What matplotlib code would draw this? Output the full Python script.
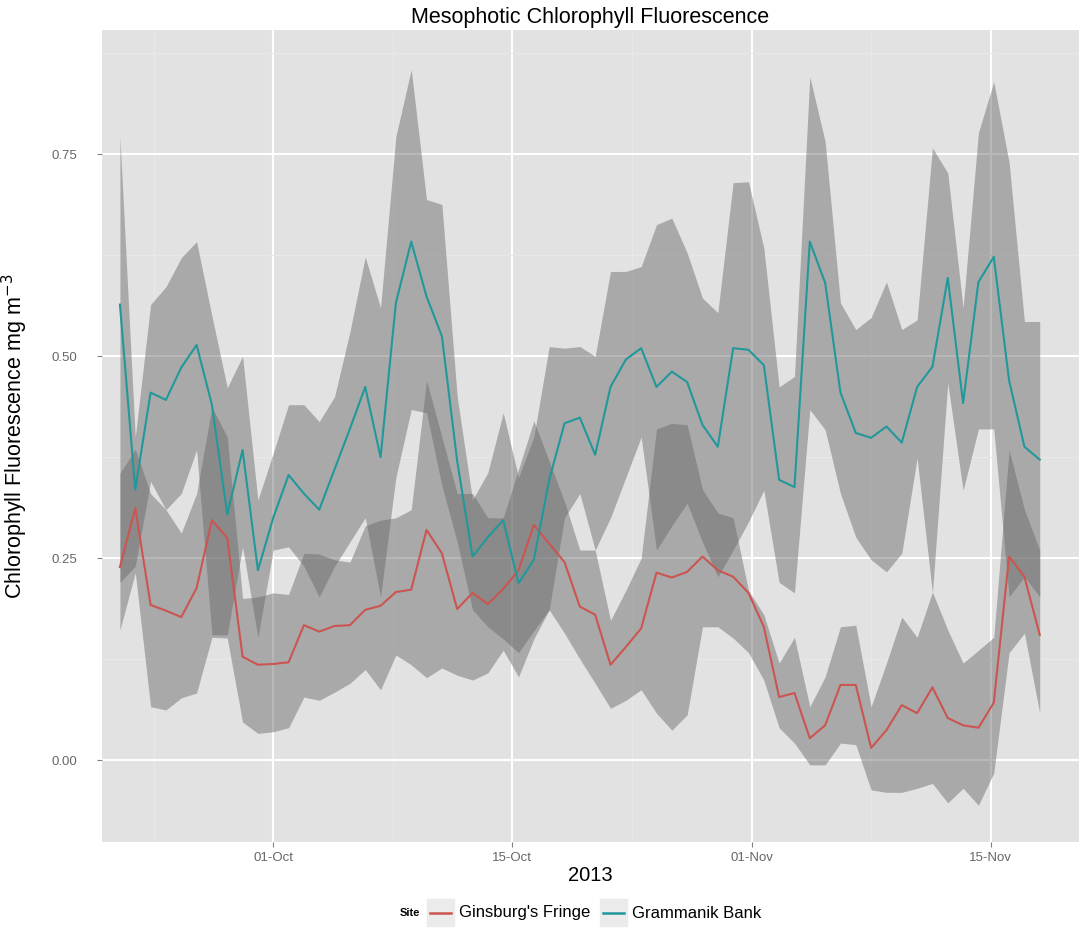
import numpy as np
import matplotlib
matplotlib.use("Agg")
import matplotlib.pyplot as plt
from matplotlib.lines import Line2D
from matplotlib.patches import Rectangle

# daily chlorophyll values and ribbon bounds
ginsburg = [0.239, 0.312, 0.192, 0.185, 0.177, 0.213, 0.297, 0.275, 0.128, 0.118,
            0.119, 0.121, 0.167, 0.159, 0.166, 0.167, 0.186, 0.191, 0.208, 0.211,
            0.285, 0.256, 0.187, 0.207, 0.193, 0.212, 0.235, 0.291, 0.268, 0.245,
            0.190, 0.180, 0.118, 0.140, 0.163, 0.232, 0.226, 0.233, 0.252, 0.235,
            0.227, 0.207, 0.165, 0.078, 0.083, 0.027, 0.043, 0.093, 0.093, 0.015,
            0.037, 0.068, 0.058, 0.090, 0.052, 0.043, 0.040, 0.071, 0.252, 0.227,
            0.155]
ginsburg_lo = [0.161, 0.232, 0.066, 0.062, 0.077, 0.083, 0.152, 0.151, 0.047, 0.033,
               0.035, 0.040, 0.078, 0.074, 0.084, 0.095, 0.112, 0.087, 0.130, 0.118,
               0.102, 0.114, 0.105, 0.099, 0.108, 0.136, 0.103, 0.150, 0.186, 0.157,
               0.125, 0.095, 0.064, 0.074, 0.087, 0.058, 0.037, 0.056, 0.165, 0.165,
               0.151, 0.133, 0.099, 0.040, 0.021, -0.006, -0.006, 0.021, 0.019, -0.037,
               -0.040, -0.040, -0.035, -0.029, -0.053, -0.035, -0.056, -0.016, 0.133, 0.157,
               0.058]
ginsburg_hi = [0.355, 0.385, 0.330, 0.310, 0.281, 0.330, 0.437, 0.400, 0.200, 0.202,
               0.207, 0.205, 0.256, 0.255, 0.248, 0.245, 0.290, 0.297, 0.300, 0.310,
               0.470, 0.400, 0.330, 0.330, 0.300, 0.300, 0.360, 0.420, 0.370, 0.320,
               0.260, 0.260, 0.173, 0.210, 0.250, 0.410, 0.417, 0.415, 0.335, 0.306,
               0.300, 0.210, 0.180, 0.120, 0.152, 0.066, 0.103, 0.165, 0.167, 0.066,
               0.120, 0.177, 0.152, 0.208, 0.161, 0.120, 0.136, 0.152, 0.384, 0.310,
               0.260]

grammanik = [0.564, 0.335, 0.455, 0.446, 0.486, 0.514, 0.440, 0.304, 0.384, 0.235,
             0.300, 0.353, 0.330, 0.310, 0.360, 0.410, 0.462, 0.375, 0.566, 0.642,
             0.574, 0.525, 0.370, 0.252, 0.276, 0.297, 0.219, 0.248, 0.347, 0.417,
             0.424, 0.378, 0.462, 0.496, 0.510, 0.462, 0.481, 0.468, 0.415, 0.388,
             0.510, 0.508, 0.489, 0.347, 0.338, 0.642, 0.591, 0.455, 0.405, 0.399,
             0.413, 0.393, 0.462, 0.487, 0.597, 0.442, 0.592, 0.623, 0.470, 0.388,
             0.372]
grammanik_lo = [0.220, 0.240, 0.345, 0.310, 0.330, 0.384, 0.155, 0.155, 0.264, 0.152,
                0.260, 0.264, 0.240, 0.202, 0.240, 0.270, 0.300, 0.202, 0.350, 0.434,
                0.430, 0.340, 0.270, 0.186, 0.165, 0.150, 0.133, 0.160, 0.186, 0.300,
                0.330, 0.260, 0.300, 0.350, 0.400, 0.260, 0.290, 0.318, 0.270, 0.227,
                0.260, 0.295, 0.334, 0.220, 0.207, 0.434, 0.409, 0.330, 0.276, 0.248,
                0.233, 0.256, 0.374, 0.207, 0.467, 0.334, 0.410, 0.410, 0.202, 0.227,
                0.202]
grammanik_hi = [0.772, 0.400, 0.564, 0.586, 0.622, 0.642, 0.550, 0.461, 0.500, 0.322,
                0.380, 0.440, 0.440, 0.419, 0.450, 0.530, 0.623, 0.560, 0.772, 0.855,
                0.694, 0.688, 0.450, 0.322, 0.356, 0.430, 0.350, 0.400, 0.512, 0.510,
                0.512, 0.500, 0.605, 0.605, 0.611, 0.663, 0.671, 0.628, 0.572, 0.554,
                0.715, 0.716, 0.634, 0.462, 0.475, 0.846, 0.766, 0.566, 0.533, 0.548,
                0.592, 0.533, 0.545, 0.758, 0.727, 0.560, 0.777, 0.840, 0.740, 0.543,
                0.543]

sites = ["Ginsburg's Fringe", "Grammanik Bank"]
site_colors = ["#CB5550", "#22989B"]

# x axis is the sample index, ticks sit where the dates were printed
date_ticks = [10.0, 25.6, 41.2, 56.8]
date_minor = [2.2, 17.8, 33.4, 49.0]
date_labels = ["01-Oct", "15-Oct", "01-Nov", "15-Nov"]
y_ticks = [0.0, 0.25, 0.50, 0.75]
y_minor = [0.125, 0.375, 0.625, 0.875]

day = np.arange(len(ginsburg))

W, H = 1079, 935
plt.rcParams["font.family"] = ["Liberation Sans", "DejaVu Sans"]
fig = plt.figure(figsize=(W / 100, H / 100), dpi=100)
ax = fig.add_axes([102 / W, 1 - 842 / H, (W - 102) / W, (842 - 30) / H])
ax.set_facecolor("#E2E2E2")
for s in ax.spines.values():
    s.set_visible(False)

# ribbons first, then the mean lines
ax.fill_between(day, ginsburg_lo, ginsburg_hi, color="#666666", alpha=0.46, lw=0, zorder=2)
ax.fill_between(day, grammanik_lo, grammanik_hi, color="#666666", alpha=0.46, lw=0, zorder=2)
ax.plot(day, ginsburg, color=site_colors[0], lw=1.5, zorder=3)
ax.plot(day, grammanik, color=site_colors[1], lw=1.5, zorder=3)

ax.set_xlim(-1.17, 62.56)
ax.set_ylim(-0.1015, 0.904)
ax.set_xticks(date_ticks)
ax.set_xticklabels(date_labels)
ax.set_xticks(date_minor, minor=True)
ax.set_yticks(y_ticks)
ax.set_yticklabels([f"{v:.2f}" for v in y_ticks])
ax.set_yticks(y_minor, minor=True)
ax.grid(True, which="major", color="white", lw=1.5, zorder=1)
ax.grid(True, which="minor", color="#E8E8E8", lw=0.8, zorder=1)
ax.set_axisbelow(True)
ax.tick_params(which="major", length=3.5, width=0.8, color="#808080",
               labelcolor="#666666", labelsize=9.5)
ax.tick_params(axis="y", which="major", pad=14)
ax.tick_params(axis="x", which="major", pad=4)
ax.tick_params(which="minor", length=0)

ax.set_title("Mesophotic Chlorophyll Fluorescence", fontsize=15.5, pad=5)
ax.set_xlabel("2013", fontsize=14.5, labelpad=1)
ax.set_ylabel("Chlorophyll Fluorescence mg m$^{-3}$", fontsize=15.5)
ax.yaxis.set_label_coords((30 - 102) / (W - 102), 0.5)

# legend along the bottom, ggplot style
fig.text(400 / W, 1 - 913 / H, "Site", fontsize=8, fontweight="bold", va="center")
key_x = [427, 600]
text_x = [459, 632]
for kx, tx, name, col in zip(key_x, text_x, sites, site_colors):
    fig.patches.append(Rectangle((kx / W, 1 - 926 / H), 27 / W, 27 / H,
                                 transform=fig.transFigure, color="#EBEBEB", zorder=1))
    fig.lines.append(Line2D([(kx + 3) / W, (kx + 24) / W], [1 - 913 / H] * 2,
                            transform=fig.transFigure, color=col, lw=1.8, zorder=2))
    fig.text(tx / W, 1 - 913 / H, name, fontsize=12, va="center")

fig.savefig("out.png", dpi=100)
